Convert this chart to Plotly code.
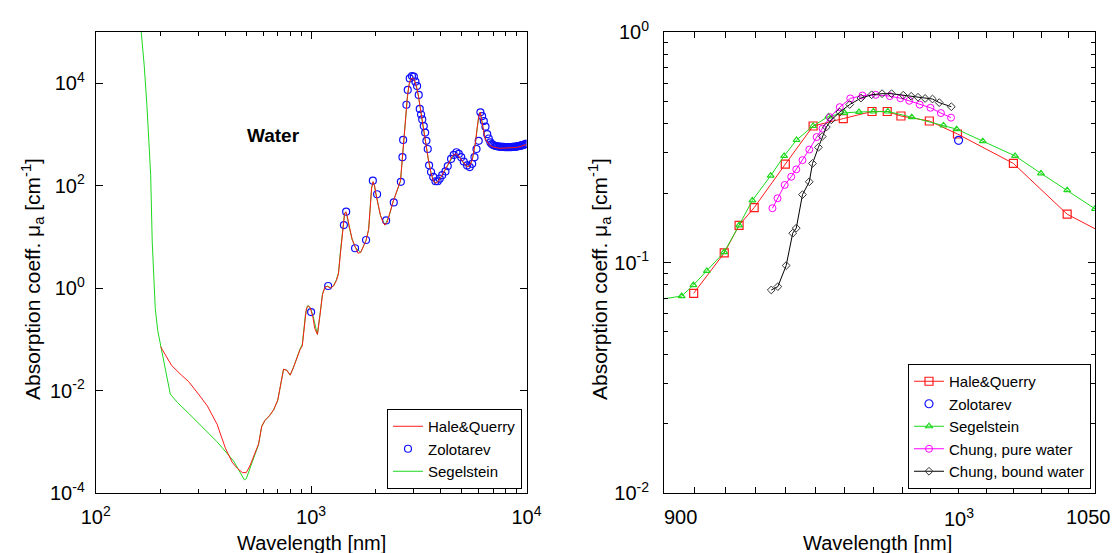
import math
import plotly.graph_objects as go

# ---------------- Left panel: water absorption 100 nm - 10 um ----------------
hq_wl = [
    200, 225, 250, 270, 300, 330, 366, 400, 430, 455,
    480, 500, 520, 545, 570, 590, 610, 640, 670, 700,
    720, 745, 770, 800, 830, 860, 890, 910, 920, 930,
    940, 950, 960, 970, 980, 990, 1000, 1020, 1040, 1070,
    1100, 1130, 1160, 1190, 1230, 1270, 1310, 1340, 1370, 1400,
    1430, 1450, 1470, 1500, 1550, 1600, 1650, 1700, 1750, 1800,
    1850, 1880, 1910, 1940, 1970, 2000, 2050, 2100, 2150, 2200,
    2250, 2300, 2350, 2400, 2450, 2500, 2550, 2600, 2650, 2700,
    2750, 2800, 2850, 2900, 2950, 3000, 3050, 3100, 3150, 3200,
    3250, 3300, 3350, 3400, 3450, 3500, 3600, 3700, 3800, 3900,
    4000, 4100, 4200, 4300, 4400, 4500, 4600, 4700, 4800, 4900,
    5000, 5100, 5200, 5300, 5400, 5500, 5600, 5700, 5800, 5900,
    6000, 6100, 6200, 6300, 6400, 6500, 6600, 6700, 6800, 6900,
    7000, 7500, 8000, 8500, 9000, 9500, 10000]
hq_mu = [
    0.072, 0.031, 0.020, 0.015, 0.0085, 0.0050, 0.0022, 7.5e-4, 4.0e-4, 3.0e-4,
    2.5e-4, 2.5e-4, 3.4e-4, 5.5e-4, 9.0e-4, 2.0e-3, 2.6e-3, 3.2e-3, 4.2e-3, 6.5e-3,
    0.013, 0.026, 0.025, 0.020, 0.029, 0.045, 0.064, 0.074, 0.110, 0.173,
    0.267, 0.391, 0.421, 0.452, 0.432, 0.411, 0.361, 0.269, 0.162, 0.125,
    0.30, 0.75, 1.05, 1.08, 1.0, 1.1, 1.4, 1.9, 5.0, 14,
    28, 31, 26, 17, 9.0, 6.5, 4.8, 5.0, 6.5, 8.5,
    14, 35, 90, 120, 100, 69, 40, 26, 20, 17,
    19, 25, 35, 48, 62, 80, 100, 125, 330, 900,
    2600, 5500, 9500, 12000, 12700, 12000, 10000, 8000, 5600, 3600,
    2300, 1450, 980, 700, 470, 330, 180, 122, 112, 122,
    145, 172, 206, 250, 300, 370, 400, 420, 393, 351,
    312, 273, 244, 232, 240, 265, 318, 448, 715, 1325,
    2240, 2700, 1784, 1137, 882, 758, 678, 632, 604, 586,
    569, 536, 539, 543, 557, 591, 638]

seg_wl = [
    158, 163, 168, 173, 177, 180, 183, 186, 189, 194,
    200, 211, 222, 240, 270, 306, 366, 437, 478, 490,
    500, 520, 545, 570, 590, 610, 640, 670, 700, 720,
    745, 770, 800, 830, 860, 890, 910, 920, 930, 940,
    950, 960, 970, 980, 990, 1000, 1020, 1040, 1070, 1100,
    1130, 1160, 1190, 1230, 1270, 1310, 1340, 1370, 1400, 1430,
    1450, 1470, 1500, 1550, 1600, 1700, 1800, 1850, 1880, 1910,
    1940, 1970, 2000, 2100, 2200, 2300, 2400, 2500, 2600, 2650,
    2700, 2750, 2800, 2850, 2900, 2950, 3000, 3050, 3100, 3150,
    3200, 3300, 3400, 3500, 3600, 3700, 3800, 4000, 4200, 4400,
    4600, 4700, 4800, 5000, 5200, 5400, 5600, 5800, 6000, 6100,
    6200, 6400, 6600, 6800, 7000, 8000, 9000, 10000]
seg_mu = [
    4e5, 1e5, 2.2e4, 3500, 800, 160, 8.0, 1.3, 0.40, 0.15,
    0.075, 0.025, 0.0085, 0.0058, 0.0036, 0.0021, 1.0e-3, 4.2e-4, 2.2e-4, 1.8e-4,
    1.9e-4, 3.0e-4, 5.3e-4, 8.8e-4, 2.0e-3, 2.6e-3, 3.2e-3, 4.2e-3, 6.4e-3, 0.013,
    0.026, 0.025, 0.020, 0.029, 0.046, 0.066, 0.080, 0.111, 0.186, 0.290,
    0.391, 0.446, 0.452, 0.44, 0.41, 0.379, 0.29, 0.206, 0.125, 0.31,
    0.78, 1.05, 1.1, 1.02, 1.1, 1.45, 2.0, 5.5, 15, 29,
    30, 25, 16, 9.0, 6.3, 5.0, 8.6, 14, 36, 92,
    118, 98, 68, 26, 17, 25, 48, 80, 122, 320,
    880, 2550, 5400, 9300, 12000, 12800, 12000, 10200, 8000, 5600,
    3600, 1450, 700, 330, 180, 122, 112, 145, 206, 300,
    400, 420, 393, 312, 244, 240, 318, 715, 2240, 2700,
    1784, 882, 678, 604, 569, 539, 557, 638]

zol_wl = [
    1000, 1200, 1420, 1455, 1600, 1800, 1935, 2025, 2230, 2420,
    2610, 2655, 2675, 2770, 2810, 2870, 2940, 3000, 3050, 3105,
    3160, 3195, 3240, 3280, 3335, 3385, 3430, 3480, 3530, 3605,
    3690, 3780, 3870, 3955, 4060, 4205, 4310, 4465, 4595, 4730,
    4850, 4975, 5115, 5300, 5450, 5595, 5735, 5860, 6000, 6110,
    6220, 6335, 6450, 6570, 6680, 6800, 6900, 7000, 7100, 7200,
    7300, 7400, 7500, 7600, 7700, 7800, 7900, 8000, 8100, 8200,
    8300, 8400, 8500, 8600, 8700, 8800, 8900, 9000, 9100, 9200,
    9300, 9400, 9500, 9600, 9700, 9800, 9900, 10000]
zol_mu = [
    0.34, 1.1, 17, 31, 6.0, 8.7, 125, 68, 21, 47,
    119, 360, 780, 3800, 7400, 12400, 13800, 13400, 10700, 8800,
    5900, 3150, 2450, 1960, 1460, 1090, 750, 520, 250, 185,
    148, 122, 122, 137, 160, 190, 241, 333, 398, 449,
    416, 360, 296, 248, 231, 267, 360, 520, 750, 2700,
    2270, 1820, 1420, 1010, 834, 700, 650, 620, 605, 595,
    588, 582, 578, 575, 572, 570, 568, 567, 566, 566,
    566, 567, 568, 570, 572, 575, 578, 582, 586, 591,
    597, 604, 611, 619, 628, 638, 648, 660]

# ---------------- Right panel: 900 - 1050 nm detail ----------------
r_hq_wl = [909.6, 919.6, 924.5, 929.5, 939.9, 949.3, 959.6, 969.5, 974.8, 979.6,
           989.6, 999.6, 1019.8, 1039.6, 1060]
r_hq_mu = [0.0735, 0.110, 0.145, 0.173, 0.267, 0.391, 0.421, 0.452, 0.452, 0.432,
           0.411, 0.361, 0.269, 0.162, 0.122]

r_zol_wl = [1000]
r_zol_mu = [0.339]

r_seg_wl = [895, 905.7, 909.5, 913.9, 919.6, 924.5, 928.9, 935.0, 939.5, 943.7,
            949.3, 954.5, 960.0, 965.0, 970.0, 975.0, 983.4, 994.6, 999.3, 1008.7,
            1020.4, 1029.9, 1039.6, 1050]
r_seg_mu = [0.068, 0.0715, 0.0798, 0.0919, 0.111, 0.145, 0.186, 0.238, 0.290, 0.340,
            0.391, 0.430, 0.446, 0.450, 0.452, 0.452, 0.427, 0.393, 0.379, 0.336,
            0.290, 0.2436, 0.206, 0.171]

chp_wl = [935.6, 937.3, 939.7, 941.9, 943.6, 945.7, 948.0, 950.5, 952.5, 955.0,
          958.4, 962.0, 966.2, 970.8, 975.7, 979.4, 982.5, 986.2, 990.0, 993.7, 997.3]
chp_mu = [0.172, 0.190, 0.217, 0.2355, 0.2535, 0.278, 0.309, 0.350, 0.381, 0.427,
          0.472, 0.515, 0.530, 0.534, 0.527, 0.516, 0.503, 0.484, 0.469, 0.445, 0.425]

chb_wl = [935.2, 937.4, 940.2, 942.4, 943.6, 945.7, 948.0, 949.1, 951.1, 952.4,
          953.8, 955.5, 958.4, 961.8, 965.7, 969.4, 973.0, 976.3, 980.4, 983.2,
          985.6, 988.1, 990.7, 993.1, 997.4]
chb_mu = [0.076, 0.0786, 0.097, 0.134, 0.141, 0.197, 0.224, 0.269, 0.316, 0.352,
          0.387, 0.416, 0.449, 0.4845, 0.517, 0.534, 0.540, 0.540, 0.532, 0.526,
          0.521, 0.515, 0.512, 0.494, 0.474]

# ---------------- styling ----------------
RED = "#ff1a1a"
GREEN = "#1ed81e"
BLUE = "#1010ff"
MAGENTA = "#ff00ff"
BLACK = "#000000"
FONT = "Liberation Sans, Arial, sans-serif"

W, H = 1113, 553
L1, R1 = 95.7, 526.5
L2, R2 = 664.0, 1095.0
TOP, BOT = 32.0, 493.0

def px(x):
    return x / W

def py(y):
    return 1 - y / H

fig = go.Figure()

# left panel
fig.add_trace(go.Scatter(x=seg_wl, y=seg_mu, mode="lines", name="Segelstein",
                         line=dict(color=GREEN, width=1), legend="legend", legendrank=3,
                         xaxis="x", yaxis="y"))
fig.add_trace(go.Scatter(x=zol_wl, y=zol_mu, mode="markers", name="Zolotarev",
                         marker=dict(symbol="circle-open", size=7, color=BLUE, line=dict(width=1.2)),
                         legend="legend", legendrank=2, xaxis="x", yaxis="y"))
fig.add_trace(go.Scatter(x=hq_wl, y=hq_mu, mode="lines", name="Hale&Querry",
                         line=dict(color=RED, width=1), legend="legend", legendrank=1,
                         xaxis="x", yaxis="y"))

# right panel
fig.add_trace(go.Scatter(x=r_hq_wl, y=r_hq_mu, mode="lines+markers", name="Hale&Querry",
                         line=dict(color=RED, width=1),
                         marker=dict(symbol="square-open", size=8, color=RED, line=dict(width=1.2)),
                         legend="legend2", xaxis="x2", yaxis="y2"))
fig.add_trace(go.Scatter(x=r_zol_wl, y=r_zol_mu, mode="markers", name="Zolotarev",
                         marker=dict(symbol="circle-open", size=8, color=BLUE, line=dict(width=1.2)),
                         legend="legend2", xaxis="x2", yaxis="y2"))
fig.add_trace(go.Scatter(x=r_seg_wl, y=r_seg_mu, mode="lines+markers", name="Segelstein",
                         line=dict(color=GREEN, width=1),
                         marker=dict(symbol="triangle-up-open", size=6, color=GREEN, line=dict(width=1.2)),
                         legend="legend2", xaxis="x2", yaxis="y2"))
fig.add_trace(go.Scatter(x=chp_wl, y=chp_mu, mode="lines+markers", name="Chung, pure water",
                         line=dict(color=MAGENTA, width=1),
                         marker=dict(symbol="circle-open", size=7, color=MAGENTA, line=dict(width=1)),
                         legend="legend2", xaxis="x2", yaxis="y2"))
fig.add_trace(go.Scatter(x=chb_wl, y=chb_mu, mode="lines+markers", name="Chung, bound water",
                         line=dict(color=BLACK, width=1),
                         marker=dict(symbol="diamond-open", size=6, color="#333333", line=dict(width=1)),
                         legend="legend2", xaxis="x2", yaxis="y2"))

common = dict(showline=True, linecolor="black", linewidth=1, mirror="allticks",
              ticks="inside", ticklen=7, tickwidth=1, tickcolor="black",
              showgrid=False, zeroline=False, automargin=False,
              tickfont=dict(family=FONT, size=20, color="black"))

sup = lambda e: "10<sup>%d</sup>" % e
left_x_minor = [k * 10 ** n for n in (2, 3) for k in range(2, 10)]
right_y_minor = [k * 10.0 ** n for n in (-2, -1) for k in range(2, 10)]
right_x_minor = [v for v in range(910, 1050, 10) if v != 1000]

legend_style = dict(xanchor="right", yanchor="bottom", y=py(489),
                    bgcolor="white", bordercolor="black", borderwidth=1,
                    font=dict(family=FONT, size=15, color="black"), tracegroupgap=0,
                    itemwidth=30)

fig.update_layout(
    template="none",
    width=W, height=H, margin=dict(l=0, r=0, t=0, b=0, autoexpand=False),
    paper_bgcolor="white", plot_bgcolor="white",
    font=dict(family=FONT, size=20, color="black"),
    xaxis=dict(domain=[px(L1), px(R1)], type="log", range=[2, 4], anchor="y",
               tickvals=[100, 1000, 10000], ticktext=[sup(2), sup(3), sup(4)],
               ticklabelstandoff=6,
               minor=dict(ticks="inside", ticklen=4, tickcolor="black", tickvals=left_x_minor),
               **common),
    yaxis=dict(domain=[py(BOT), py(TOP)], type="log", range=[-4, 5], anchor="x",
               tickvals=[1e-4, 1e-2, 1, 1e2, 1e4], ticktext=[sup(-4), sup(-2), sup(0), sup(2), sup(4)],
               ticklabelstandoff=6, **common),
    xaxis2=dict(domain=[px(L2), px(R2)], type="log", range=[math.log10(900), math.log10(1050)],
                anchor="y2", tickvals=[1000], showticklabels=False,
                minor=dict(ticks="inside", ticklen=6, tickcolor="black", tickvals=right_x_minor),
                **common),
    yaxis2=dict(domain=[py(BOT), py(TOP)], type="log", range=[-2, 0], anchor="x2",
                tickvals=[0.01, 0.1, 1], ticktext=[sup(-2), sup(-1), sup(0)],
                ticklabelstandoff=10,
                minor=dict(ticks="inside", ticklen=4, tickcolor="black", tickvals=right_y_minor),
                **common),
    legend=dict(x=px(522), **legend_style),
    legend2=dict(x=px(1091), **legend_style),
    showlegend=True,
)

ann = []
# axis titles
for xc in ((L1 + R1) / 2, (L2 + R2) / 2 - 2):
    ann.append(dict(text="Wavelength [nm]", xref="paper", yref="paper", x=px(xc), y=py(543),
                    xanchor="center", yanchor="middle", showarrow=False,
                    font=dict(family=FONT, size=20, color="black")))
for xc in (32, 599):
    ann.append(dict(text="Absorption coeff. \u03bc<sub>a</sub> [cm<sup>-1</sup>]",
                    xref="paper", yref="paper", x=px(xc), y=py(279), textangle=-90,
                    xanchor="center", yanchor="middle", showarrow=False,
                    font=dict(family=FONT, size=21, color="black")))
# panel label
ann.append(dict(text="<b>Water</b>", xref="paper", yref="paper", x=px(273), y=py(135),
                xanchor="center", yanchor="middle", showarrow=False,
                font=dict(family=FONT, size=19, color="black")))
# right-panel x tick labels
for val, txt, shift in ((900, "900", 16), (1000, sup(3), 0), (1050, "1050", -7)):
    ann.append(dict(text=txt, xref="x2", yref="paper", x=math.log10(val), y=py(517),
                    xanchor="center", yanchor="middle", xshift=shift, showarrow=False,
                    font=dict(family=FONT, size=20, color="black")))
fig.update_layout(annotations=ann)

fig.write_html("out.html")
